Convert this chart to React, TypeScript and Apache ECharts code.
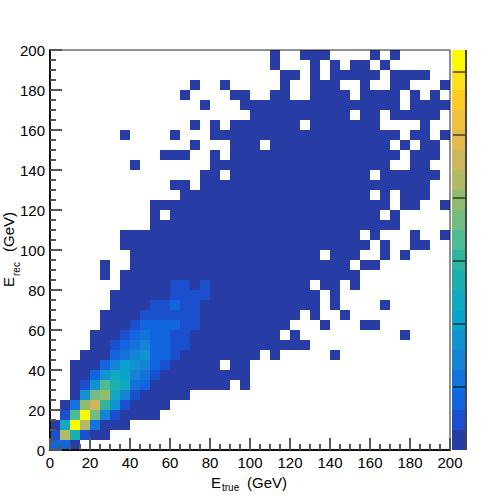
import React, { useEffect, useRef } from "react";
import * as echarts from "echarts";

const binWidth = 5;
const axisMax = 200;
const axisStep = 20;
const palette = [
  "#283ca6", "#1a50cd", "#1166df", "#1373da", "#1584d6",
  "#1193d2", "#0ba3cc", "#0faac0", "#1cafae", "#2fb4a1",
  "#50ba93", "#72bc7f", "#93bb70", "#b1bb66", "#cdb65c",
  "#e2bb4d", "#f3bf3e", "#fecb27", "#fbe21d", "#fafa03",
];
// Colour scale ticks, as heights on the shared vertical scale.
const paletteTicks = [31.5, 63, 94.5, 126, 157.5, 189];
// Colour scale sits just right of the plot, in units of the horizontal scale.
const paletteLeft = 201;
const paletteRight = 208;

// Each row runs top to bottom of the plot; each run is [firstBin, lastBin, paletteLevel].
type Run = [number, number, number];
const rowsTopDown: Run[][] = [
  [[22, 22, 0], [25, 27, 0], [32, 32, 0], [34, 34, 0]],
  [[22, 22, 0], [26, 26, 0], [28, 28, 0], [30, 31, 0], [33, 33, 0]],
  [[23, 24, 0], [26, 26, 0], [28, 32, 0], [34, 37, 0]],
  [[14, 14, 0], [17, 17, 0], [23, 23, 0], [26, 28, 0], [31, 31, 0], [34, 35, 0], [39, 39, 0]],
  [[13, 13, 0], [18, 19, 0], [22, 23, 0], [26, 29, 0], [31, 34, 0], [36, 36, 0], [38, 38, 0]],
  [[15, 15, 0], [19, 34, 0], [36, 39, 0]],
  [[20, 29, 0], [31, 32, 0], [34, 38, 0]],
  [[14, 14, 0], [16, 16, 0], [18, 24, 0], [26, 32, 0], [37, 37, 0]],
  [[7, 7, 0], [12, 12, 0], [16, 34, 0], [36, 37, 0], [39, 39, 0]],
  [[14, 14, 0], [18, 20, 0], [22, 33, 0], [35, 35, 0], [37, 38, 0]],
  [[11, 13, 0], [16, 16, 0], [18, 34, 0], [36, 38, 0]],
  [[8, 8, 0], [16, 33, 0], [36, 37, 0]],
  [[15, 16, 0], [18, 31, 0], [33, 38, 0]],
  [[12, 13, 0], [15, 37, 0]],
  [[13, 31, 0], [33, 33, 0], [35, 37, 0]],
  [[10, 33, 0], [35, 36, 0], [39, 39, 0]],
  [[10, 10, 0], [12, 32, 0], [34, 34, 0]],
  [[10, 34, 0]],
  [[7, 30, 0], [32, 32, 0], [36, 36, 0], [39, 39, 0]],
  [[7, 31, 0], [33, 33, 0], [36, 37, 0]],
  [[8, 26, 0], [28, 30, 0], [33, 33, 0], [35, 35, 0]],
  [[5, 5, 0], [8, 29, 0], [31, 32, 0]],
  [[5, 5, 0], [7, 30, 0]],
  [[7, 11, 0], [12, 13, 1], [14, 14, 0], [15, 15, 1], [16, 25, 0], [27, 28, 0], [30, 30, 0]],
  [[6, 11, 0], [12, 15, 1], [16, 26, 0], [28, 28, 0]],
  [[6, 9, 0], [10, 11, 1], [12, 12, 2], [13, 14, 1], [15, 26, 0], [28, 28, 0], [33, 33, 0]],
  [[5, 8, 0], [9, 14, 1], [15, 24, 0], [26, 26, 0], [29, 29, 0]],
  [[5, 7, 0], [8, 8, 1], [9, 12, 2], [13, 14, 1], [15, 23, 0], [27, 27, 0], [31, 32, 0]],
  [[4, 6, 0], [7, 7, 1], [8, 8, 2], [9, 9, 3], [10, 11, 2], [12, 13, 1], [14, 22, 0], [24, 24, 0], [35, 35, 0]],
  [[4, 5, 0], [6, 6, 1], [7, 7, 2], [8, 8, 3], [9, 9, 4], [10, 11, 2], [12, 13, 1], [14, 25, 0]],
  [[3, 5, 0], [6, 6, 2], [7, 7, 3], [8, 8, 4], [9, 9, 5], [10, 11, 2], [12, 12, 1], [13, 20, 0], [22, 22, 0], [28, 28, 0]],
  [[2, 4, 0], [5, 5, 2], [6, 6, 4], [7, 7, 6], [8, 8, 5], [9, 9, 4], [10, 10, 2], [11, 11, 1], [12, 16, 0], [18, 19, 0]],
  [[2, 3, 0], [4, 4, 2], [5, 5, 5], [6, 6, 7], [7, 7, 6], [8, 8, 4], [9, 9, 3], [10, 10, 1], [11, 19, 0]],
  [[2, 2, 0], [3, 3, 1], [4, 4, 5], [5, 5, 10], [6, 6, 8], [7, 7, 7], [8, 8, 3], [9, 9, 2], [10, 17, 0], [19, 19, 0]],
  [[2, 2, 0], [3, 3, 5], [4, 4, 11], [5, 5, 12], [6, 6, 7], [7, 7, 4], [8, 8, 1], [9, 13, 0]],
  [[1, 1, 0], [2, 2, 3], [3, 3, 12], [4, 4, 14], [5, 5, 9], [6, 6, 5], [7, 7, 1], [8, 11, 0]],
  [[1, 1, 1], [2, 2, 10], [3, 3, 19], [4, 4, 11], [5, 5, 4], [6, 6, 1], [7, 10, 0]],
  [[0, 0, 0], [1, 1, 7], [2, 2, 19], [3, 3, 13], [4, 4, 3], [5, 7, 0]],
  [[0, 0, 1], [1, 1, 13], [2, 2, 8], [3, 3, 1], [4, 5, 0]],
  [[0, 1, 2], [2, 2, 0]],
];

const FONT = "'Liberation Sans', Arial, sans-serif";

const cells: number[][] = [];
rowsTopDown.forEach((runs, t) => {
  const yBin = rowsTopDown.length - 1 - t;
  runs.forEach(([from, to, level]) => {
    for (let i = from; i <= to; i++) cells.push([i * binWidth, yBin * binWidth, level]);
  });
});

const paletteCells = palette.map((_, i) => [i]);
const paletteTickData = paletteTicks.map((v) => [v]);
const plotGrid = { left: 50, top: 50, width: 400, height: 400 };

function txt(text: string, x: number, y: number, size: number) {
  return {
    type: "text",
    x,
    y,
    silent: true,
    style: { text, fontSize: size, lineHeight: size - 3, fontFamily: FONT, fill: "#000", textAlign: "left", textVerticalAlign: "middle" },
  };
}

export default function App() {
  const marksRef = useRef<HTMLDivElement>(null);
  const axesRef = useRef<HTMLDivElement>(null);
  useEffect(() => {
    const marks = echarts.init(marksRef.current!, undefined, { renderer: "svg" });
    const axes = echarts.init(axesRef.current!, undefined, { renderer: "svg" });
    const hiddenAxis = { type: "value", min: 0, max: axisMax, interval: axisStep, show: false };
    marks.setOption({
      animation: false,
      backgroundColor: "#fff",
      grid: [plotGrid],
      xAxis: [hiddenAxis],
      yAxis: [hiddenAxis],
      series: [
        {
          type: "custom",
          data: cells,
          encode: { x: 0, y: 1 },
          renderItem: (_: any, api: any) => {
            const x = api.value(0);
            const y = api.value(1);
            const a = api.coord([x, y + binWidth]);
            const b = api.coord([x + binWidth, y]);
            return {
              type: "rect",
              shape: { x: a[0], y: a[1], width: b[0] - a[0], height: b[1] - a[1] },
              style: { fill: palette[api.value(2)] },
            };
          },
        },
        {
          type: "custom",
          clip: false,
          silent: true,
          data: paletteCells,
          encode: { y: 0 },
          renderItem: (_: any, api: any) => {
            const i = api.value(0);
            const step = axisMax / palette.length;
            const a = api.coord([paletteLeft, (i + 1) * step]);
            const b = api.coord([paletteRight, i * step]);
            return {
              type: "rect",
              shape: { x: a[0], y: a[1], width: b[0] - a[0], height: b[1] - a[1] },
              style: { fill: palette[i] },
            };
          },
        },
        {
          type: "custom",
          z: 4,
          clip: false,
          silent: true,
          data: paletteTickData,
          encode: { y: 0 },
          renderItem: (_: any, api: any) => {
            const v = api.value(0);
            const a = api.coord([paletteLeft, v]);
            const b = api.coord([paletteRight, v]);
            const top = api.coord([paletteRight, axisMax]);
            const bottom = api.coord([paletteRight, 0]);
            return {
              type: "group",
              children: [
                { type: "line", shape: { x1: a[0] + 1, y1: a[1], x2: b[0], y2: b[1] }, style: { stroke: "#000", lineWidth: 1 } },
                { type: "line", shape: { x1: top[0], y1: top[1], x2: bottom[0], y2: bottom[1] }, style: { stroke: "#444", lineWidth: 1 } },
              ],
            };
          },
        },
      ],
      graphic: [
        txt("E", 211, 482, 15),
        txt("true", 222, 487, 10),
        txt("(GeV)", 247, 482, 15),
        {
          type: "group",
          x: 8,
          y: 287,
          rotation: Math.PI / 2,
          children: [txt("E", 0, 0, 15), txt("rec", 11, 8, 10), txt("(GeV)", 35, 0, 15)],
        },
      ],
    });
    const mainAxis = {
      type: "value",
      min: 0,
      max: axisMax,
      interval: axisStep,
      axisLine: { show: true, onZero: false, lineStyle: { color: "#111", width: 2 } },
      axisTick: { show: true, inside: true, length: 12, lineStyle: { color: "#555", width: 2 } },
      minorTick: { show: true, splitNumber: 4, length: 6, lineStyle: { color: "#555", width: 2 } },
      splitLine: { show: false },
      axisLabel: { show: true, color: "#000", fontSize: 15, fontFamily: FONT, margin: 5 },
    };
    axes.setOption({
      animation: false,
      backgroundColor: "transparent",
      grid: [{ ...plotGrid, show: true, borderColor: "#222", borderWidth: 1, backgroundColor: "transparent" }],
      xAxis: [mainAxis],
      yAxis: [mainAxis],
      series: [],
    });
    return () => {
      marks.dispose();
      axes.dispose();
    };
  }, []);
  const layer = { position: "absolute", left: 0, top: 0, width: 500, height: 500 } as const;
  return (
    <div>
      <div ref={marksRef} style={layer} />
      <div ref={axesRef} style={layer} />
    </div>
  );
}
